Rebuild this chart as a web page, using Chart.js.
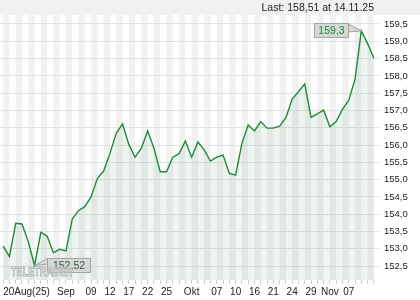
<!DOCTYPE html>
<html>
<head>
<meta charset="utf-8">
<script src="https://cdn.jsdelivr.net/npm/chart.js@4/dist/chart.umd.min.js"></script>
<style>
  html, body { margin: 0; padding: 0; background: #fff; }
  canvas { display: block; }
</style>
</head>
<body>
<canvas id="priceChart" width="420" height="300"></canvas>
<script>
// daily closing prices, 20 Aug 2025 .. 14 Nov 2025
const prices = [
    153.08, 152.78, 153.74, 153.72, 153.21, 152.52, 153.48, 153.37, 152.89, 152.99,
    152.94, 153.86, 154.11, 154.22, 154.51, 155.04, 155.25, 155.76, 156.34, 156.61,
    156.02, 155.65, 155.91, 156.41, 155.91, 155.23, 155.23, 155.65, 155.75, 156.12,
    155.65, 156.09, 155.86, 155.54, 155.65, 155.71, 155.18, 155.13, 156.05, 156.58,
    156.41, 156.68, 156.49, 156.49, 156.55, 156.79, 157.33, 157.54, 157.77, 156.80,
    156.90, 157.01, 156.53, 156.68, 157.03, 157.30, 157.90, 159.30, 158.94, 158.51
];

// which points carry a date label on the x axis
const tickIndex = [0, 10, 14, 17, 20, 23, 26, 30, 34, 37, 40, 43, 46, 49, 52, 55];
const tickText = ['20Aug(25)', 'Sep', '09', '12', '17', '22', '25', 'Okt', '07', '10', '16', '21', '24', '29', 'Nov', '07'];

const yTicks = [152.5, 153.0, 153.5, 154.0, 154.5, 155.0, 155.5, 156.0, 156.5, 157.0, 157.5, 158.0, 158.5, 159.0, 159.5];
const yMin = 152.1;
const yMax = 159.76;

const lastText = 'Last: 158,51 at 14.11.25';

const FONT = '"Liberation Sans", Arial, sans-serif';
const LINE_GREEN = '#1d8a3b';

const labels = prices.map((_, i) => {
    const k = tickIndex.indexOf(i);
    return k < 0 ? '' : tickText[k];
});

function deNum(v) {
    return String(v).replace('.', ',');
}

const backdrop = {
    id: 'backdrop',
    beforeDraw(chart) {
        const { ctx, chartArea: a } = chart;
        const x = chart.scales.x;
        ctx.save();
        ctx.fillStyle = '#fff';
        ctx.fillRect(0, 0, chart.width, chart.height);
        ctx.fillStyle = '#f1f1f1';
        ctx.fillRect(0, 0, chart.width, a.top);

        // alternating day stripes
        ctx.fillStyle = '#f1f1f1';
        for (let i = 0; i < prices.length - 1; i += 2) {
            const x0 = x.getPixelForValue(i);
            const x1 = x.getPixelForValue(i + 1);
            ctx.fillRect(x0, a.top, x1 - x0, a.bottom - a.top);
        }

        ctx.fillStyle = '#222';
        ctx.font = '10.5px ' + FONT;
        ctx.textAlign = 'right';
        ctx.textBaseline = 'middle';
        ctx.fillText(lastText, a.right - 3, a.top / 2 + 0.5);
        ctx.restore();
    }
};

function drawTag(ctx, text, bx, by, w, h, tip, color) {
    ctx.beginPath();
    ctx.moveTo(tip.ax, tip.ay);
    ctx.lineTo(tip.px, tip.py);
    ctx.lineTo(tip.bx, tip.by);
    ctx.closePath();
    ctx.fillStyle = '#d7d7d7';
    ctx.fill();
    ctx.strokeStyle = '#a5a5a5';
    ctx.lineWidth = 1;
    ctx.stroke();

    ctx.fillStyle = '#d7d7d7';
    ctx.fillRect(bx + 0.5, by + 0.5, w, h);
    ctx.strokeRect(bx + 0.5, by + 0.5, w, h);

    ctx.fillStyle = color;
    ctx.font = '10.5px ' + FONT;
    ctx.textAlign = 'center';
    ctx.textBaseline = 'middle';
    ctx.fillText(text, bx + w / 2 + 0.5, by + h / 2 + 1);
}

const tags = {
    id: 'tags',
    afterDatasetsDraw(chart) {
        const { ctx } = chart;
        const x = chart.scales.x, y = chart.scales.y;
        const hi = Math.max(...prices), lo = Math.min(...prices);
        const iHi = prices.indexOf(hi), iLo = prices.indexOf(lo);
        ctx.save();

        // high tag, left of the point
        const hx = x.getPixelForValue(iHi), hy = y.getPixelForValue(hi);
        const hw = 34, hh = 14;
        const hbx = Math.round(hx - 13 - hw), hby = Math.round(hy - 8);
        drawTag(ctx, deNum(hi), hbx, hby, hw, hh,
            { ax: hbx + hw, ay: hby + 0.5, px: hx, py: hy, bx: hbx + hw, by: hby + 9 }, LINE_GREEN);

        // low tag, right of the point
        const lx = x.getPixelForValue(iLo), ly = y.getPixelForValue(lo);
        const lw = 43, lh = 14;
        const lbx = Math.round(lx + 12), lby = Math.round(ly - 7);
        drawTag(ctx, deNum(lo), lbx, lby, lw, lh,
            { ax: lbx + 0.5, ay: lby + 0.5, px: lx, py: ly, bx: lbx + 0.5, by: lby + 6 }, '#2b5e34');

        // watermark on top
        ctx.save();
        ctx.translate(11, 276);
        ctx.scale(0.7, 1);
        ctx.font = 'bold 13px ' + FONT;
        ctx.textAlign = 'left';
        ctx.textBaseline = 'alphabetic';
        ctx.fillStyle = 'rgba(255,255,255,0.55)';
        ctx.fillText('TELETRADER', 0, 0);
        ctx.strokeStyle = '#b5b5b5';
        ctx.lineWidth = 1;
        ctx.strokeText('TELETRADER', 0, 0);
        ctx.restore();

        ctx.restore();
    }
};

new Chart(document.getElementById('priceChart'), {
    type: 'line',
    data: {
        labels: labels,
        datasets: [{
            data: prices,
            borderColor: LINE_GREEN,
            borderWidth: 1.4,
            backgroundColor: 'rgba(40,130,60,0.08)',
            fill: 'start',
            tension: 0,
            pointRadius: 0
        }]
    },
    options: {
        responsive: false,
        animation: false,
        devicePixelRatio: 1,
        layout: { padding: { top: 15, left: 0, right: 0, bottom: 0 } },
        plugins: {
            legend: { display: false },
            tooltip: { enabled: false },
            title: { display: false }
        },
        scales: {
            x: {
                type: 'category',
                offset: true,
                border: { display: false },
                grid: {
                    offset: false,
                    drawOnChartArea: false,
                    drawTicks: true,
                    tickLength: 4,
                    color: '#cfcfcf'
                },
                ticks: {
                    autoSkip: false,
                    maxRotation: 0,
                    minRotation: 0,
                    align: 'inner',
                    padding: 2,
                    color: '#222',
                    font: { family: FONT, size: 10 }
                },
                afterFit(scale) { scale.height = 20; }
            },
            y: {
                position: 'right',
                min: yMin,
                max: yMax,
                border: { display: false },
                grid: { color: '#e2e2e2', tickLength: 3 },
                afterBuildTicks(scale) {
                    scale.ticks = yTicks.map(v => ({ value: v }));
                },
                ticks: {
                    padding: 4,
                    color: '#222',
                    font: { family: FONT, size: 9.5 },
                    callback: v => v.toFixed(1).replace('.', ',')
                },
                afterFit(scale) { scale.width = 43; }
            }
        }
    },
    plugins: [backdrop, tags]
});
</script>
</body>
</html>
